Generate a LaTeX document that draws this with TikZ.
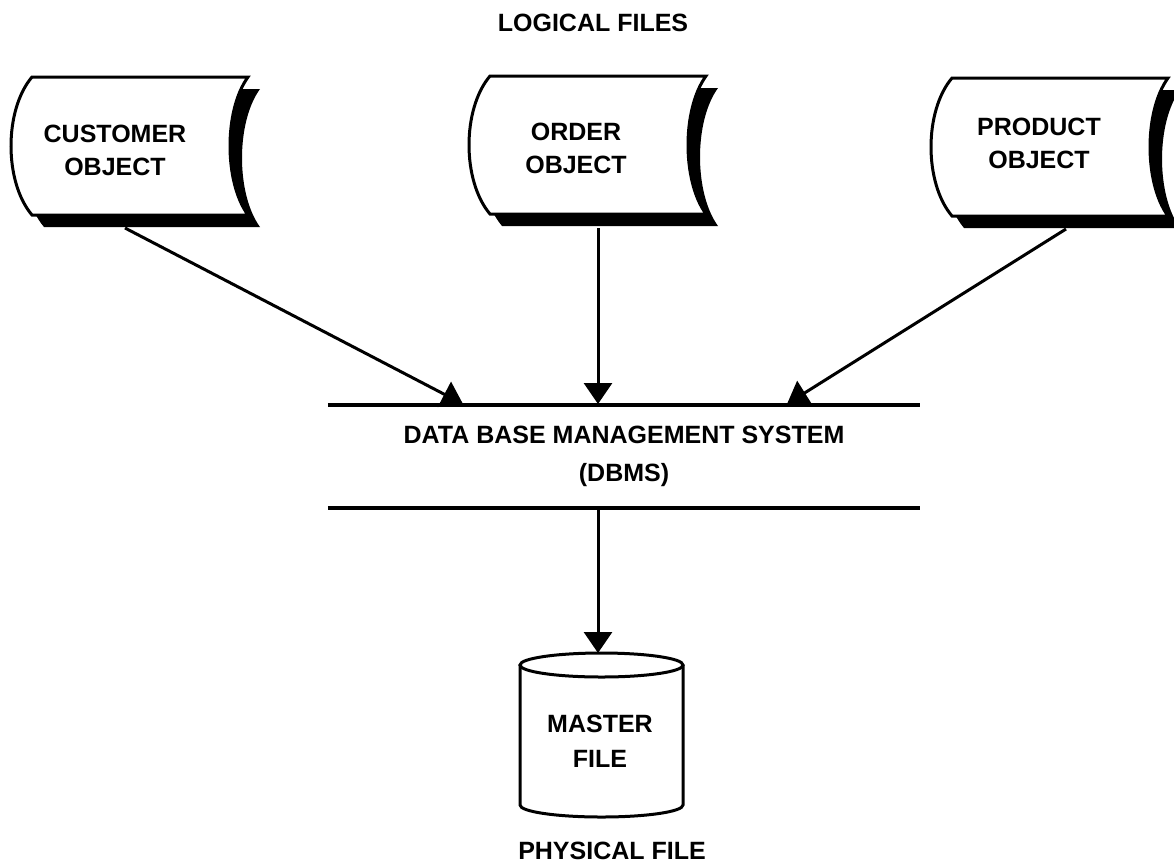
\documentclass[tikz,border=0pt]{standalone}
\usepackage{fontspec}
\setmainfont{Liberation Sans}
\usetikzlibrary{arrows.meta}
\tikzset{
  lbl/.style={font=\bfseries\fontsize{25}{33}\selectfont, align=center, inner sep=0pt},
  arr/.style={line width=3pt, -{Triangle[width=28pt,length=21pt]}},
  rulestroke/.style={line width=3.5pt},
  outline/.style={line width=3pt},
  stored/.pic={
    \path[fill=black] (12,12) -- (228,12) .. controls (204,45) and (204,117) .. (228,150)
      -- (12,150) .. controls (-16,117) and (-16,45) .. (12,12) -- cycle;
    \path[fill=white, draw=black, line width=3pt, line join=miter] (0,0) -- (216,0)
      .. controls (192,33) and (192,105) .. (216,138)
      -- (0,138) .. controls (-28,105) and (-28,33) .. (0,0) -- cycle;
  }
}
\begin{document}
\begin{tikzpicture}[x=1pt, y=-1pt]
\useasboundingbox (0,0) rectangle (1174,865);
\fill[white] (0,0) rectangle (1174,865);

% connector end points
\coordinate (s1) at (125,228);
\coordinate (s2) at (598,228);
\coordinate (s3) at (1066,229);
\coordinate (e1) at (463,404);
\coordinate (e2) at (598,404);
\coordinate (e3) at (787,404);
\coordinate (d1) at (598,508);
\coordinate (cyltop) at (598,653);

% arrows (drawn first, the shapes cover their starts)
\draw[arr] (s1) -- (e1);
\draw[arr] (s2) -- (e2);
\draw[arr] (s3) -- (e3);

% stored-data shapes
\pic at (32,77) {stored};
\pic at (490,76) {stored};
\pic at (952,78) {stored};

\node[lbl] (logical) at (593,23) {LOGICAL FILES};
\node[lbl] (cust) at (115,150) {CUSTOMER\\OBJECT};
\node[lbl] (order) at (576,148) {ORDER\\OBJECT};
\node[lbl] (prod) at (1039,143) {PRODUCT\\OBJECT};

% DBMS
\node[lbl, font=\bfseries\fontsize{25}{38}\selectfont, minimum width=592pt, minimum height=103pt] (dbms) at (624,456.5)
  {DATA BASE MANAGEMENT SYSTEM\\(DBMS)};
\draw[rulestroke] (dbms.north west) -- (dbms.north east);
\draw[rulestroke] (dbms.south west) -- (dbms.south east);

% master file cylinder
\draw[outline] (520,665) -- (520,805) arc[start angle=180, end angle=0, x radius=81.5, y radius=12] -- (683,665);
\draw[outline] (601.5,665) ellipse [x radius=81.5, y radius=12];
\node[lbl, font=\bfseries\fontsize{25}{35}\selectfont] (master) at (600,741) {MASTER\\FILE};

\draw[arr] (d1) -- (cyltop);

\node[lbl] (physical) at (612,851) {PHYSICAL FILE};
\end{tikzpicture}
\end{document}
